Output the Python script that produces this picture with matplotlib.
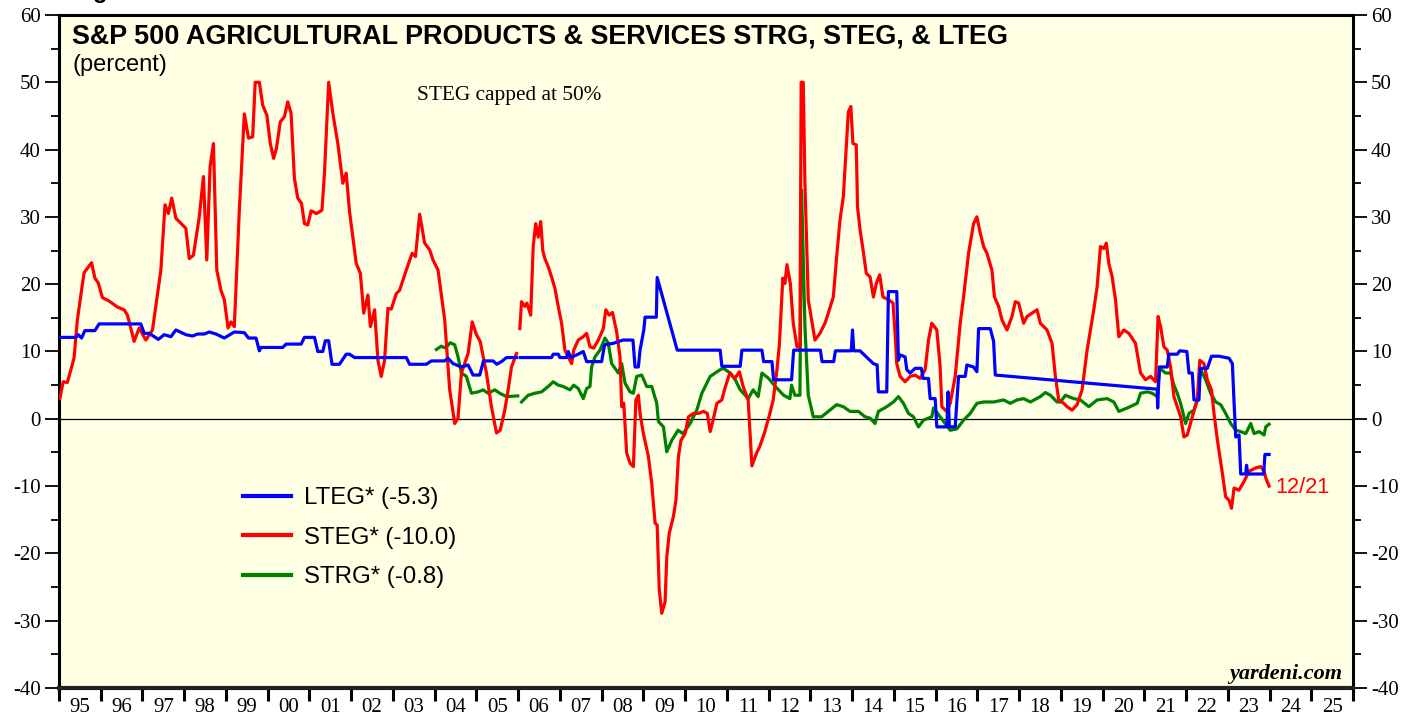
import numpy as np
import matplotlib
matplotlib.use("Agg")
import matplotlib.pyplot as plt
from matplotlib.ticker import MultipleLocator, FixedLocator, NullFormatter, FixedFormatter

plt.rcParams["axes.unicode_minus"] = False
nan = np.nan

# ---------------- data ----------------
steg_years = [1995.02, 1995.10, 1995.20, 1995.36, 1995.44, 1995.60, 1995.78, 1995.86, 1995.94, 1996.04,
              1996.20, 1996.40, 1996.56, 1996.64, 1996.80, 1996.92, 1997.08, 1997.24, 1997.44, 1997.54,
              1997.62, 1997.70, 1997.80, 1998.04, 1998.12, 1998.22, 1998.36, 1998.46, 1998.54, 1998.62,
              1998.70, 1998.78, 1998.88, 1998.96, 1999.05, 1999.12, 1999.20, 1999.32, 1999.44, 1999.54,
              1999.64, 1999.70, 1999.80, 1999.88, 1999.98, 2000.06, 2000.14, 2000.21, 2000.30, 2000.40,
              2000.48, 2000.56, 2000.64, 2000.72, 2000.81, 2000.88, 2000.96, 2001.04, 2001.17, 2001.30,
              2001.36, 2001.46, 2001.56, 2001.68, 2001.80, 2001.88, 2001.96, 2002.12, 2002.22, 2002.30,
              2002.40, 2002.46, 2002.56, 2002.64, 2002.72, 2002.80, 2002.88, 2002.96, 2003.08, 2003.16,
              2003.32, 2003.46, 2003.54, 2003.64, 2003.76, 2003.88, 2003.96, 2004.08, 2004.24, 2004.36,
              2004.48, 2004.56, 2004.64, 2004.80, 2004.90, 2005.00, 2005.09, 2005.24, 2005.36, 2005.48,
              2005.57, 2005.68, 2005.76, 2005.84, 2005.96, 2006.00, 2006.04, 2006.08, 2006.16, 2006.21,
              2006.30, 2006.36, 2006.42, 2006.48, 2006.54, 2006.59, 2006.64, 2006.72, 2006.80, 2006.88,
              2006.96, 2007.04, 2007.12, 2007.20, 2007.28, 2007.33, 2007.44, 2007.56, 2007.64, 2007.72,
              2007.81, 2007.92, 2008.04, 2008.10, 2008.18, 2008.26, 2008.36, 2008.44, 2008.48, 2008.53,
              2008.60, 2008.68, 2008.76, 2008.82, 2008.88, 2008.92, 2009.00, 2009.12, 2009.20, 2009.28,
              2009.33, 2009.38, 2009.44, 2009.52, 2009.56, 2009.62, 2009.72, 2009.78, 2009.84, 2009.90,
              2010.00, 2010.08, 2010.20, 2010.32, 2010.44, 2010.53, 2010.60, 2010.67, 2010.76, 2010.88,
              2010.95, 2011.07, 2011.19, 2011.30, 2011.39, 2011.51, 2011.60, 2011.71, 2011.79, 2011.91,
              2012.03, 2012.11, 2012.20, 2012.26, 2012.34, 2012.39, 2012.44, 2012.52, 2012.59, 2012.68,
              2012.75, 2012.78, 2012.83, 2012.87, 2012.95, 2013.03, 2013.11, 2013.23, 2013.35, 2013.43,
              2013.55, 2013.63, 2013.71, 2013.79, 2013.86, 2013.91, 2013.97, 2014.02, 2014.10, 2014.13,
              2014.19, 2014.27, 2014.34, 2014.43, 2014.51, 2014.58, 2014.66, 2014.74, 2014.87, 2014.98,
              2015.03, 2015.07, 2015.15, 2015.27, 2015.39, 2015.51, 2015.63, 2015.75, 2015.83, 2015.91,
              2016.03, 2016.11, 2016.15, 2016.23, 2016.27, 2016.35, 2016.47, 2016.59, 2016.67, 2016.79,
              2016.91, 2016.99, 2017.07, 2017.15, 2017.23, 2017.35, 2017.41, 2017.51, 2017.59, 2017.71,
              2017.83, 2017.91, 2017.99, 2018.11, 2018.19, 2018.31, 2018.43, 2018.51, 2018.67, 2018.79,
              2018.87, 2018.95, 2019.07, 2019.15, 2019.27, 2019.39, 2019.51, 2019.63, 2019.79, 2019.87,
              2019.95, 2020.03, 2020.09, 2020.15, 2020.23, 2020.31, 2020.39, 2020.51, 2020.63, 2020.79,
              2020.91, 2021.03, 2021.15, 2021.27, 2021.33, 2021.39, 2021.47, 2021.55, 2021.63, 2021.71,
              2021.79, 2021.87, 2021.95, 2022.03, 2022.15, 2022.27, 2022.33, 2022.43, 2022.51, 2022.61,
              2022.67, 2022.75, 2022.87, 2022.95, 2023.03, 2023.09, 2023.15, 2023.27, 2023.39, 2023.51,
              2023.67, 2023.79, 2023.87, 2023.91, 2023.99]
steg_values = [3.0, 5.5, 5.4, 9.0, 14.7, 21.7, 23.2, 20.9, 20.2, 18.0,
               17.5, 16.6, 16.2, 15.4, 11.5, 13.5, 11.7, 13.2, 22.1, 31.8,
               30.5, 32.8, 29.8, 28.3, 23.8, 24.3, 30.0, 36.0, 23.6, 37.5,
               40.9, 22.1, 19.1, 17.7, 13.5, 14.4, 13.7, 31.0, 45.3, 41.7,
               41.9, 50.0, 50.0, 46.6, 45.1, 41.0, 38.7, 40.2, 44.1, 44.9,
               47.1, 45.4, 35.7, 32.8, 32.0, 29.0, 28.8, 30.9, 30.5, 31.0,
               36.5, 50.0, 45.4, 40.9, 35.0, 36.5, 30.8, 23.1, 21.6, 15.7,
               18.4, 13.7, 16.2, 8.7, 6.3, 8.7, 16.4, 16.3, 18.6, 19.1,
               22.1, 24.6, 24.1, 30.4, 26.1, 25.1, 23.6, 22.1, 14.7, 4.3,
               -0.7, 0.1, 6.8, 9.7, 14.4, 12.5, 11.5, 6.8, 1.8, -2.1,
               -1.7, 1.3, 4.3, 7.7, 9.7, nan, 13.4, 17.4, 16.7, 17.2,
               15.4, 25.6, 29.0, 27.0, 29.3, 25.0, 23.8, 22.6, 21.1, 19.4,
               16.7, 14.2, 10.2, 9.2, 8.2, 10.2, 11.7, 12.2, 12.7, 10.7,
               10.5, 11.7, 13.4, 16.2, 15.4, 15.8, 12.9, 9.2, 1.8, 2.3,
               -5.1, -6.6, -7.1, 2.8, 3.5, 0.8, -2.2, -5.6, -9.6, -15.5,
               -15.8, -25.4, -28.9, -27.2, -20.5, -17.0, -14.5, -12.1, -5.6, -3.2,
               -2.2, 0.3, 0.8, 0.8, 1.1, 0.8, -1.9, -0.2, 2.3, 2.8,
               4.5, 6.8, 6.0, 7.0, 4.8, 2.8, -7.0, -5.1, -4.1, -1.9,
               0.8, 2.8, 7.3, 11.2, 20.9, 20.1, 22.9, 20.1, 14.2, 10.7,
               10.7, 50.0, 50.0, 35.0, 17.7, 14.7, 11.7, 12.7, 14.2, 15.7,
               18.1, 24.1, 29.5, 33.0, 40.2, 45.6, 46.4, 40.9, 40.7, 31.5,
               28.1, 24.8, 21.6, 21.1, 18.1, 20.1, 21.4, 18.1, 17.7, 17.2,
               12.7, 8.2, 6.3, 5.5, 6.3, 6.5, 6.0, 7.3, 11.7, 14.2,
               13.2, 7.7, 1.8, 1.3, 1.1, 2.3, 6.3, 14.2, 18.1, 24.6,
               29.0, 30.0, 27.6, 25.6, 24.6, 22.1, 18.1, 16.7, 14.7, 13.2,
               15.2, 17.4, 17.2, 14.2, 15.2, 15.7, 16.2, 14.2, 13.2, 11.2,
               6.3, 2.8, 2.3, 1.8, 1.3, 2.1, 4.3, 10.2, 16.2, 19.6,
               25.6, 25.3, 26.1, 23.1, 21.1, 17.7, 12.2, 13.2, 12.7, 11.2,
               6.8, 5.8, 6.3, 5.5, 15.2, 13.7, 10.7, 10.2, 7.7, 3.3,
               1.8, 0.3, -2.7, -2.4, 0.3, 2.8, 8.7, 8.2, 5.8, 4.3,
               0.8, -3.1, -8.1, -11.6, -12.1, -13.3, -10.3, -10.6, -9.3, -7.8,
               -7.3, -7.1, -7.8, -8.8, -10.0]

lteg_years = [1995.02, 1995.40, 1995.46, 1995.54, 1995.62, 1995.86, 1995.96, 1996.96, 1997.04, 1997.16,
              1997.38, 1997.52, 1997.68, 1997.80, 1998.04, 1998.20, 1998.32, 1998.48, 1998.60, 1998.76,
              1998.96, 1999.20, 1999.44, 1999.54, 1999.72, 1999.80, 1999.84, 2000.36, 2000.44, 2000.80,
              2000.88, 2001.12, 2001.20, 2001.32, 2001.38, 2001.46, 2001.54, 2001.72, 2001.88, 2001.96,
              2002.08, 2003.32, 2003.40, 2003.80, 2003.92, 2004.24, 2004.32, 2004.44, 2004.64, 2004.80,
              2004.92, 2005.08, 2005.17, 2005.40, 2005.49, 2005.60, 2005.72, 2005.96, 2006.00, 2006.05,
              2006.80, 2006.84, 2006.96, 2007.00, 2007.16, 2007.20, 2007.26, 2007.44, 2007.56, 2007.64,
              2008.00, 2008.07, 2008.27, 2008.51, 2008.75, 2008.80, 2008.88, 2008.92, 2009.01, 2009.04,
              2009.31, 2009.33, 2009.81, 2010.84, 2010.88, 2011.32, 2011.36, 2011.84, 2011.88, 2012.08,
              2012.12, 2012.55, 2012.60, 2013.24, 2013.28, 2013.56, 2013.60, 2013.98, 2014.01, 2014.04,
              2014.19, 2014.51, 2014.60, 2014.63, 2014.83, 2014.87, 2015.07, 2015.11, 2015.15, 2015.27,
              2015.31, 2015.39, 2015.51, 2015.66, 2015.70, 2015.83, 2015.87, 2015.99, 2016.03, 2016.27,
              2016.30, 2016.33, 2016.47, 2016.55, 2016.71, 2016.75, 2016.91, 2016.99, 2017.03, 2017.31,
              2017.39, 2017.43, 2021.31, 2021.32, 2021.36, 2021.55, 2021.59, 2021.79, 2021.85, 2022.02,
              2022.07, 2022.15, 2022.19, 2022.31, 2022.34, 2022.51, 2022.61, 2022.79, 2023.03, 2023.11,
              2023.15, 2023.19, 2023.27, 2023.31, 2023.43, 2023.45, 2023.48, 2023.86, 2023.89, 2023.99]
lteg_values = [12.1, 12.1, 12.5, 12.0, 13.1, 13.1, 14.1, 14.1, 12.7, 12.7,
               11.8, 12.5, 12.2, 13.2, 12.5, 12.3, 12.6, 12.6, 12.9, 12.6,
               12.0, 12.9, 12.8, 12.0, 12.0, 10.1, 10.6, 10.6, 11.1, 11.1,
               12.1, 12.1, 10.0, 10.0, 11.6, 11.6, 8.1, 8.1, 9.6, 9.6,
               9.1, 9.1, 8.1, 8.1, 8.6, 8.6, 9.0, 8.2, 7.7, 8.0,
               6.5, 6.5, 8.6, 8.6, 8.1, 8.5, 9.1, 9.1, nan, 9.1,
               9.1, 9.6, 9.6, 9.1, 9.1, 10.0, 9.1, 9.6, 10.0, 8.5,
               8.5, 11.0, 11.2, 11.7, 11.7, 7.7, 7.7, 10.2, 13.2, 15.1,
               15.1, 21.0, 10.2, 10.2, 7.8, 7.8, 10.2, 10.2, 8.5, 8.5,
               5.8, 5.8, 10.2, 10.2, 8.5, 8.5, 10.1, 10.1, 13.2, 10.1,
               10.1, 8.2, 8.0, 4.0, 4.0, 18.9, 18.9, 8.7, 9.5, 9.2,
               7.3, 6.8, 7.5, 7.5, 6.0, 6.0, 3.0, 3.0, -1.2, -1.2,
               4.0, -1.2, -1.2, 6.3, 6.3, 8.0, 7.7, 7.0, 13.4, 13.4,
               11.5, 6.5, 4.4, 1.6, 7.7, 7.7, 9.6, 9.6, 10.1, 10.0,
               6.8, 6.8, 2.8, 2.8, 7.5, 7.5, 9.3, 9.3, 9.0, 8.2,
               2.5, -2.7, -2.4, -8.2, -8.2, -6.9, -8.2, -8.2, -5.3, -5.3]

strg_years = [2004.04, 2004.16, 2004.26, 2004.37, 2004.48, 2004.56, 2004.64, 2004.76, 2004.88, 2005.04,
              2005.16, 2005.28, 2005.44, 2005.56, 2005.72, 2005.99, 2006.03, 2006.08, 2006.24, 2006.40,
              2006.56, 2006.72, 2006.84, 2006.96, 2007.08, 2007.24, 2007.33, 2007.44, 2007.56, 2007.64,
              2007.72, 2007.76, 2007.84, 2007.96, 2008.08, 2008.16, 2008.24, 2008.32, 2008.40, 2008.48,
              2008.56, 2008.68, 2008.76, 2008.84, 2008.96, 2009.08, 2009.20, 2009.32, 2009.36, 2009.48,
              2009.56, 2009.68, 2009.83, 2009.95, 2010.12, 2010.28, 2010.40, 2010.60, 2010.84, 2010.92,
              2011.08, 2011.20, 2011.32, 2011.44, 2011.51, 2011.63, 2011.75, 2011.84, 2012.00, 2012.16,
              2012.36, 2012.51, 2012.55, 2012.63, 2012.75, 2012.79, 2012.87, 2012.95, 2013.07, 2013.27,
              2013.43, 2013.63, 2013.79, 2013.95, 2014.15, 2014.31, 2014.43, 2014.55, 2014.63, 2014.83,
              2014.99, 2015.11, 2015.23, 2015.35, 2015.47, 2015.59, 2015.71, 2015.91, 2015.95, 2016.11,
              2016.23, 2016.35, 2016.51, 2016.67, 2016.83, 2016.99, 2017.15, 2017.39, 2017.63, 2017.79,
              2017.95, 2018.11, 2018.27, 2018.51, 2018.63, 2018.75, 2018.91, 2018.99, 2019.11, 2019.31,
              2019.47, 2019.67, 2019.87, 2020.11, 2020.27, 2020.39, 2020.59, 2020.83, 2020.91, 2021.07,
              2021.19, 2021.31, 2021.37, 2021.51, 2021.63, 2021.71, 2021.79, 2021.87, 2021.99, 2022.07,
              2022.19, 2022.27, 2022.35, 2022.47, 2022.59, 2022.71, 2022.83, 2022.95, 2023.07, 2023.19,
              2023.31, 2023.43, 2023.55, 2023.63, 2023.75, 2023.87, 2023.91, 2023.99]
strg_values = [10.3, 10.8, 10.5, 11.3, 11.0, 9.2, 6.8, 6.3, 3.8, 4.0,
               4.3, 3.8, 4.3, 3.8, 3.3, 3.4, nan, 2.5, 3.5, 3.8,
               4.0, 4.8, 5.5, 5.0, 4.8, 4.3, 5.0, 4.5, 3.0, 4.5,
               4.8, 7.7, 9.2, 10.2, 12.0, 11.2, 8.2, 7.5, 6.8, 8.2,
               5.3, 4.0, 3.8, 6.3, 6.5, 4.8, 4.8, 2.3, -0.4, -1.2,
               -4.9, -3.2, -1.7, -2.2, -0.7, 1.3, 3.8, 6.3, 7.3, 7.5,
               6.8, 5.8, 4.3, 3.5, 3.0, 4.3, 3.3, 6.8, 6.0, 4.8,
               3.5, 3.0, 5.0, 3.5, 3.5, 34.0, 13.7, 3.5, 0.3, 0.3,
               1.1, 2.1, 1.8, 1.1, 1.1, 0.3, 0.1, -0.7, 1.1, 1.8,
               2.5, 3.3, 2.3, 0.8, 0.3, -1.2, -0.2, 0.3, 1.6, 0.3,
               -0.7, -1.7, -1.5, -0.2, 0.8, 2.3, 2.5, 2.5, 2.8, 2.3,
               2.8, 3.0, 2.5, 3.3, 3.9, 3.5, 2.5, 2.5, 3.5, 3.0,
               2.8, 1.8, 2.8, 3.0, 2.5, 1.1, 1.6, 2.3, 3.8, 4.0,
               3.8, 3.3, 7.5, 6.8, 6.8, 5.0, 3.8, 2.3, -0.7, 0.8,
               1.3, 2.8, 7.3, 5.8, 3.8, 2.5, 2.1, 0.8, -0.7, -1.7,
               -1.9, -2.2, -0.7, -2.2, -1.9, -2.4, -1.2, -0.8]

year_labels = [f"{y % 100:02d}" for y in range(1995, 2026)]
legend_labels = ["LTEG* (-5.3)", "STEG* (-10.0)", "STRG* (-0.8)"]
title_text = "S&P 500 AGRICULTURAL PRODUCTS & SERVICES STRG, STEG, & LTEG"

# ---------------- figure ----------------
W, H = 1419, 717
fig = plt.figure(figsize=(W / 100, H / 100), dpi=100)
fig.patch.set_facecolor("white")
L, R, T, B = 59, 1353, 15, 688
ax = fig.add_axes([L / W, 1 - B / H, (R - L) / W, (B - T) / H])
ax.set_facecolor("#FFFFE4")

BLUE, RED, GREEN = "#0000FF", "#FF0000", "#008000"
lw = 2.3
ax.axhline(0, color="black", lw=0.9, zorder=1)
ax.plot(strg_years, strg_values, color=GREEN, lw=lw, zorder=2, label=legend_labels[2])
ax.plot(steg_years, steg_values, color=RED, lw=lw, zorder=3, label=legend_labels[1])
ax.plot(lteg_years, lteg_values, color=BLUE, lw=lw, zorder=4, label=legend_labels[0])

ax.set_xlim(1995, 2026)
ax.set_ylim(-40, 60)

serif = "Liberation Serif"
sans = "Liberation Sans"

# y axis
ax.yaxis.set_major_locator(MultipleLocator(10))
ax.yaxis.set_minor_locator(MultipleLocator(5))
ax.tick_params(axis="y", which="both", left=True, right=True, labelleft=True, labelright=True,
               direction="out", width=1.3, labelsize=15, pad=3)
ax.tick_params(axis="y", which="major", length=10)
ax.tick_params(axis="y", which="minor", length=6)
for lab in ax.get_yticklabels():
    lab.set_fontfamily(serif)

# x axis
ax.xaxis.set_major_locator(FixedLocator(list(range(1995, 2027))))
ax.xaxis.set_major_formatter(NullFormatter())
ax.xaxis.set_minor_locator(FixedLocator([y + 0.5 for y in range(1995, 2026)]))
ax.xaxis.set_minor_formatter(FixedFormatter(year_labels))
ax.tick_params(axis="x", which="major", direction="out", length=9, width=2.2, top=False)
ax.tick_params(axis="x", which="minor", length=0, labelsize=15, pad=7)
for lab in ax.get_xticklabels(minor=True):
    lab.set_fontfamily(serif)

for s in ax.spines.values():
    s.set_linewidth(2.2)
ax.spines["bottom"].set_linewidth(3)
ax.spines["bottom"].set_color("#222222")

# texts
fig.text(72 / W, 1 + 2 / H, "Figure", fontsize=17, fontweight="bold", family=sans,
         va="baseline", ha="left")
ax.text((72 - L) / (R - L), (B - 36) / (B - T), title_text, transform=ax.transAxes,
        fontsize=19.45, fontweight="bold", family=sans, va="center", ha="left")
ax.text((72 - L) / (R - L), (B - 65) / (B - T), "(percent)", transform=ax.transAxes,
        fontsize=17, family=sans, va="center", ha="left")
ax.text(2003.58, 48.1, "STEG capped at 50%", fontsize=15.3, family=serif, va="center", ha="left")
ax.text(2024.15, -10.2, "12/21", color=RED, fontsize=15.7, family=sans, va="center", ha="left")
ax.text(0.992, 0.006, "yardeni.com", transform=ax.transAxes, fontsize=16, family=serif,
        fontweight="bold", style="italic", ha="right", va="bottom")

handles, labels = ax.get_legend_handles_labels()
order = [2, 1, 0]
leg = ax.legend([handles[i] for i in order], [labels[i] for i in order],
                loc="upper left", bbox_to_anchor=((243 - L) / (R - L), (B - 487) / (B - T)),
                frameon=False, prop={"family": sans, "size": 17.3},
                handlelength=2.0, handletextpad=0.55, labelspacing=0.73,
                borderpad=0, borderaxespad=0)
for line in leg.get_lines():
    line.set_linewidth(3)

fig.savefig("out.png", dpi=100)
